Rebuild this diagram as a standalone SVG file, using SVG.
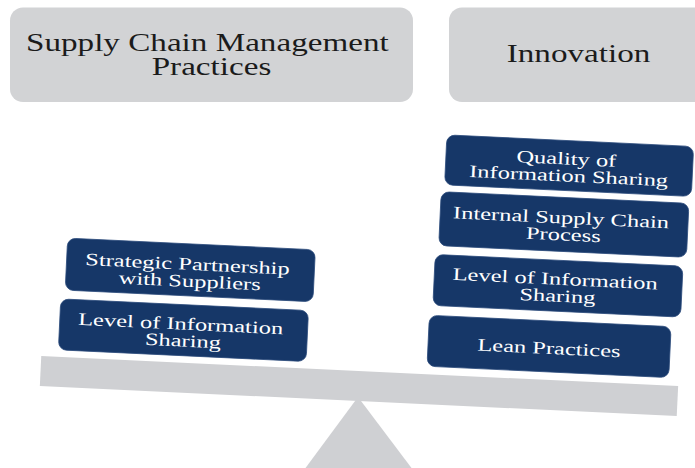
<svg xmlns="http://www.w3.org/2000/svg" width="695" height="468" viewBox="0 0 695 468">
  <style>
    .head { fill: #d2d3d5; }
    .head-text { font-family: "Liberation Serif", "Times New Roman", serif; font-size: 24.2px; fill: #1b1b1b; text-anchor: middle; }
    .weight { fill: #163768; stroke: #2a4a7a; stroke-width: 0.8; }
    .weight-text { font-family: "Liberation Serif", "Times New Roman", serif; font-size: 17.5px; fill: #ffffff; text-anchor: middle; }
    .scale-part { fill: #cfd0d3; }
  </style>

  <rect width="695" height="468" fill="#ffffff"/>

  <!-- column headings -->
  <g id="scm-heading">
    <rect class="head" x="10" y="7.5" width="403" height="94.5" rx="13"/>
    <text class="head-text" transform="translate(211.5 51) scale(1.37 1)">
      <tspan x="0" y="0">Supply Chain Management</tspan>
      <tspan x="0" y="24">Practices</tspan>
    </text>
  </g>
  <g id="innovation-heading">
    <rect class="head" x="449" y="7.5" width="262" height="94.5" rx="13"/>
    <text class="head-text" transform="translate(578.5 62) scale(1.37 1)">Innovation</text>
  </g>

  <!-- fulcrum -->
  <polygon id="fulcrum" class="scale-part" points="358,397 305.5,468 411.5,468"/>

  <!-- tilted beam with the weights resting on it -->
  <g id="balance" transform="rotate(2.7 358.5 386)">
    <rect id="beam" class="scale-part" x="40.2" y="371" width="637.6" height="30"/>

    <g id="strategic-partnership">
      <rect class="weight" x="61" y="252" width="248" height="52" rx="8"/>
      <text class="weight-text" transform="translate(185 278) scale(1.4 1)">
        <tspan x="0" y="0">Strategic Partnership</tspan>
        <tspan x="0" y="17">with Suppliers</tspan>
      </text>
    </g>
    <g id="level-info-left">
      <rect class="weight" x="57" y="313" width="248" height="51" rx="8"/>
      <text class="weight-text" transform="translate(181 338) scale(1.4 1)">
        <tspan x="0" y="0">Level of Information</tspan>
        <tspan x="0" y="17">Sharing</tspan>
      </text>
    </g>

    <g id="quality-info">
      <rect class="weight" x="435" y="131" width="247" height="50" rx="8"/>
      <text class="weight-text" transform="translate(558.5 155) scale(1.4 1)">
        <tspan x="0" y="0">Quality of</tspan>
        <tspan x="0" y="17">Information Sharing</tspan>
      </text>
    </g>
    <g id="internal-process">
      <rect class="weight" x="432" y="188" width="248" height="54" rx="8"/>
      <text class="weight-text" transform="translate(556 214) scale(1.4 1)">
        <tspan x="0" y="0">Internal Supply Chain</tspan>
        <tspan x="0" y="17">Process</tspan>
      </text>
    </g>
    <g id="level-info-right">
      <rect class="weight" x="429" y="251" width="248" height="51" rx="8"/>
      <text class="weight-text" transform="translate(553 275.5) scale(1.4 1)">
        <tspan x="0" y="0">Level of Information</tspan>
        <tspan x="0" y="17">Sharing</tspan>
      </text>
    </g>
    <g id="lean-practices">
      <rect class="weight" x="426" y="312" width="242" height="51" rx="8"/>
      <text class="weight-text" transform="translate(547 345) scale(1.4 1)">Lean Practices</text>
    </g>
  </g>

  <!-- the picture has no connectors; group kept for structure -->
  <g id="connectors"/>
</svg>
